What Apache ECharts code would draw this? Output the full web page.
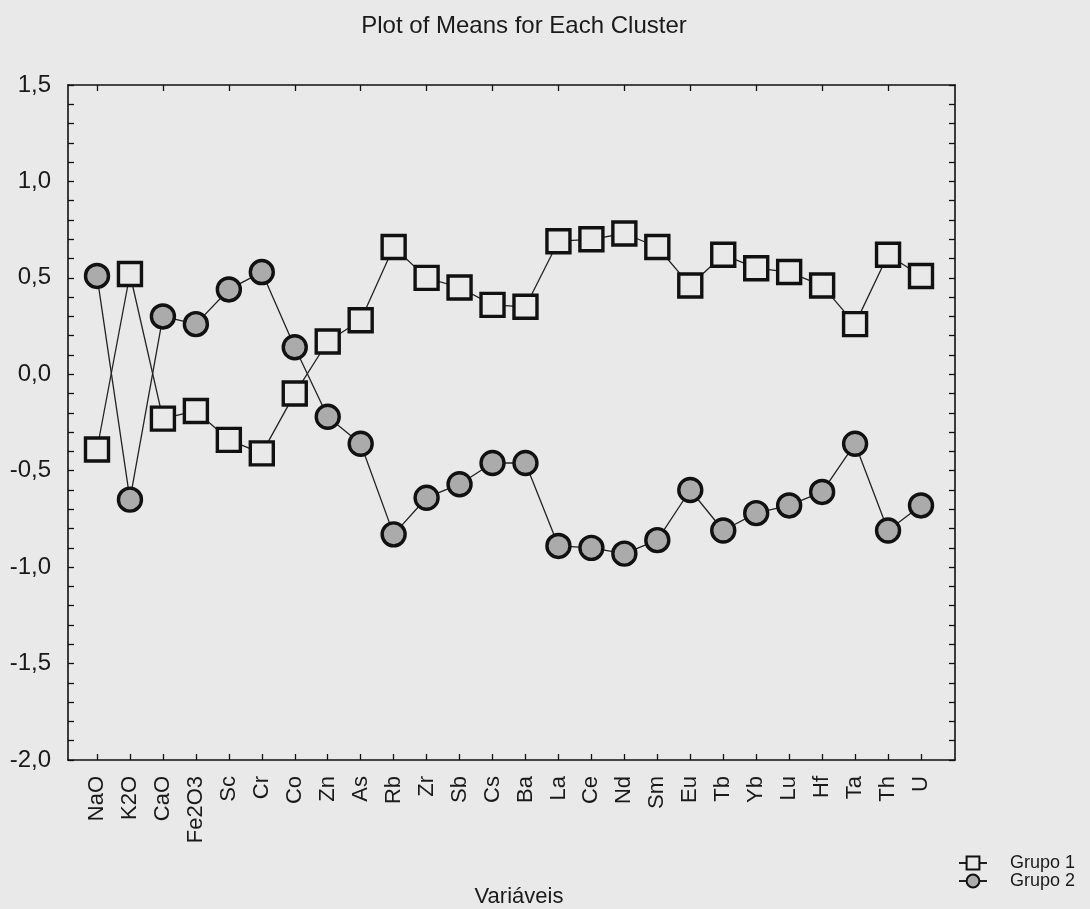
<!DOCTYPE html>
<html>
<head>
<meta charset="utf-8">
<script src="https://cdn.jsdelivr.net/npm/echarts@6/dist/echarts.min.js"></script>
<style>
  html, body { margin: 0; padding: 0; background: #e9e9e9; }
  #chart { width: 1090px; height: 909px; }
</style>
</head>
<body>
<div id="chart"></div>
<script>
const categories = ['NaO', 'K2O', 'CaO', 'Fe2O3', 'Sc', 'Cr', 'Co', 'Zn', 'As', 'Rb', 'Zr', 'Sb', 'Cs', 'Ba',
  'La', 'Ce', 'Nd', 'Sm', 'Eu', 'Tb', 'Yb', 'Lu', 'Hf', 'Ta', 'Th', 'U'];
const grupo1 = [-0.39, 0.52, -0.23, -0.19, -0.34, -0.41, -0.10, 0.17, 0.28, 0.66, 0.50, 0.45, 0.36, 0.35,
  0.69, 0.70, 0.73, 0.66, 0.46, 0.62, 0.55, 0.53, 0.46, 0.26, 0.62, 0.51];
const grupo2 = [0.51, -0.65, 0.30, 0.26, 0.44, 0.53, 0.14, -0.22, -0.36, -0.83, -0.64, -0.57, -0.46, -0.46,
  -0.89, -0.90, -0.93, -0.86, -0.60, -0.81, -0.72, -0.68, -0.61, -0.36, -0.81, -0.68];
const seriesNames = ['Grupo 1', 'Grupo 2'];
const yMin = -2.0, yMax = 1.5, yStep = 0.5;

const FONT = "'Liberation Sans', Arial, Helvetica, sans-serif";
const BG = '#e9e9e9';
const INK = '#111111';
const TEXT = '#1a1a1a';

const chart = echarts.init(document.getElementById('chart'), null, { renderer: 'canvas' });

const frameX = (pos) => ({
  type: 'value', gridIndex: 0, position: pos, min: 0, max: 1,
  axisLine: { show: true, onZero: false, lineStyle: { color: INK, width: 1.6 } },
  axisTick: { show: false }, axisLabel: { show: false }, splitLine: { show: false }
});
const frameY = (pos, labels) => ({
  type: 'value', gridIndex: 0, position: pos, min: yMin, max: yMax, interval: yStep,
  axisLine: { show: true, onZero: false, lineStyle: { color: INK, width: 1.6 } },
  axisTick: { show: true, inside: true, length: 6, lineStyle: { color: INK, width: 1.3 } },
  minorTick: { show: true, splitNumber: 5, length: 6, lineStyle: { color: INK, width: 1.3 } },
  axisLabel: {
    show: labels, fontFamily: FONT, fontSize: 24, color: TEXT, margin: 17,
    formatter: (v) => v.toFixed(1).replace('.', ',')
  },
  splitLine: { show: false }, minorSplitLine: { show: false }
});

const option = {
  backgroundColor: BG,
  animation: false,
  title: {
    text: 'Plot of Means for Each Cluster',
    left: 519, top: 9, textAlign: 'center',
    textStyle: { fontFamily: FONT, fontSize: 24, fontWeight: 'normal', color: TEXT }
  },
  legend: {
    data: seriesNames,
    orient: 'vertical',
    left: 953, top: 849,
    itemWidth: 28, itemHeight: 16, itemGap: 0,
    textStyle: { fontFamily: FONT, fontSize: 18, color: TEXT, padding: [0, 0, 0, 18] }
  },
  grid: [
    { left: 68, top: 85, width: 887, height: 675, containLabel: false, outerBoundsMode: 'none' },
    { left: 97, top: 85, width: 824, height: 675, containLabel: false, outerBoundsMode: 'none' }
  ],
  xAxis: [
    frameX('bottom'),
    frameX('top'),
    {
      type: 'category', gridIndex: 1, position: 'bottom', data: categories, boundaryGap: false,
      name: 'Variáveis', nameLocation: 'middle', nameGap: 126,
      nameTextStyle: { fontFamily: FONT, fontSize: 22, color: TEXT, padding: [0, 0, 0, 20] },
      axisLine: { show: false, onZero: false },
      axisTick: { show: true, inside: true, length: 6, lineStyle: { color: INK, width: 1.3 } },
      axisLabel: { show: true, rotate: 90, interval: 0, fontFamily: FONT, fontSize: 22, color: TEXT, margin: 16 },
      splitLine: { show: false }
    },
    {
      type: 'category', gridIndex: 1, position: 'top', data: categories, boundaryGap: false,
      axisLine: { show: false, onZero: false },
      axisTick: { show: true, inside: true, length: 6, lineStyle: { color: INK, width: 1.3 } },
      axisLabel: { show: false }, splitLine: { show: false }
    }
  ],
  yAxis: [
    frameY('left', true),
    frameY('right', false),
    {
      type: 'value', gridIndex: 1, min: yMin, max: yMax, interval: yStep, show: false,
      axisLine: { onZero: false }, splitLine: { show: false }
    }
  ],
  series: [
    {
      name: seriesNames[0], type: 'line', xAxisIndex: 2, yAxisIndex: 2,
      data: grupo1, symbol: 'rect', symbolSize: 23,
      lineStyle: { color: '#222', width: 1.3 },
      itemStyle: { color: BG, borderColor: INK, borderWidth: 3.4 },
      emphasis: { disabled: true }, z: 3
    },
    {
      name: seriesNames[1], type: 'line', xAxisIndex: 2, yAxisIndex: 2,
      data: grupo2, symbol: 'circle', symbolSize: 23,
      lineStyle: { color: '#222', width: 1.3 },
      itemStyle: { color: '#ababab', borderColor: INK, borderWidth: 3.4 },
      emphasis: { disabled: true }, z: 4
    }
  ]
};
chart.setOption(option);
</script>
</body>
</html>
